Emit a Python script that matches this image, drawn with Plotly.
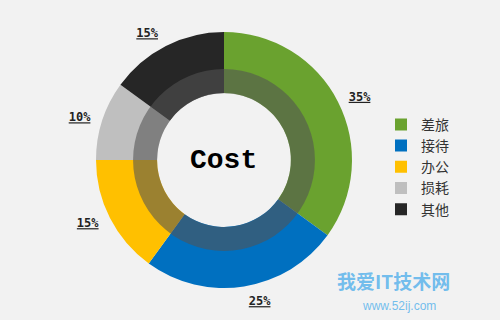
import plotly.graph_objects as go

categories = ["差旅", "接待", "办公", "损耗", "其他"]
values = [35, 25, 15, 10, 15]
colors = ["#6aa22f", "#0070c0", "#ffc000", "#bfbfbf", "#262626"]
center_label = "Cost"
watermark = ["我爱IT技术网", "www.52ij.com"]

fig = go.Figure()

# main donut
fig.add_trace(go.Pie(
    labels=categories,
    values=values,
    marker=dict(colors=colors, line=dict(width=0)),
    hole=0.523,
    sort=False,
    direction="clockwise",
    rotation=0,
    textinfo="none",
    domain=dict(x=[0.192, 0.704], y=[0.1, 0.9]),
    showlegend=True,
    hoverinfo="label+percent",
))

# translucent inner ring overlay
fig.add_trace(go.Pie(
    labels=["overlay"],
    values=[1],
    marker=dict(colors=["rgba(83,83,83,0.58)"], line=dict(width=0)),
    hole=0.736,
    sort=False,
    textinfo="none",
    domain=dict(x=[0.266, 0.63], y=[0.2156, 0.784]),
    showlegend=False,
    hoverinfo="skip",
))

# transparent carrier ring for the outside percentage labels
fig.add_trace(go.Pie(
    labels=categories,
    values=values,
    marker=dict(colors=["rgba(0,0,0,0)"] * len(values), line=dict(width=0)),
    hole=0.9,
    sort=False,
    direction="clockwise",
    rotation=0,
    texttemplate="%{percent:.0%}",
    textposition="outside",
    outsidetextfont=dict(family="DejaVu Sans Mono", size=12, color="#222222",
                         weight="bold", lineposition="under"),
    domain=dict(x=[0.176, 0.72], y=[0.07, 0.93]),
    showlegend=False,
    hoverinfo="skip",
))

fig.add_annotation(text=center_label, x=0.446, y=0.5, xref="paper", yref="paper",
                   xanchor="center", yanchor="middle", showarrow=False,
                   font=dict(family="Liberation Mono", size=28, color="#000000",
                             weight="bold"))

# watermark
fig.add_annotation(text=watermark[0], x=0.786, y=0.122, xref="paper", yref="paper",
                   xanchor="center", yanchor="middle", showarrow=False,
                   font=dict(family="Noto Sans CJK SC", size=19, color="rgba(80,175,235,0.8)",
                             weight="bold"))
fig.add_annotation(text=watermark[1], x=0.798, y=0.043, xref="paper", yref="paper",
                   xanchor="center", yanchor="middle", showarrow=False,
                   font=dict(family="Liberation Sans", size=12, color="rgba(80,175,235,0.8)"))

fig.update_layout(
    width=500, height=320,
    margin=dict(l=0, r=0, t=0, b=0),
    paper_bgcolor="#f2f2f2",
    plot_bgcolor="#f2f2f2",
    legend=dict(x=0.762, y=0.66, xanchor="left", yanchor="top",
                font=dict(family="Noto Sans CJK SC", size=14, color="#333333"),
                bgcolor="rgba(0,0,0,0)", itemwidth=30, traceorder="normal"),
)

fig.write_html("out.html")
